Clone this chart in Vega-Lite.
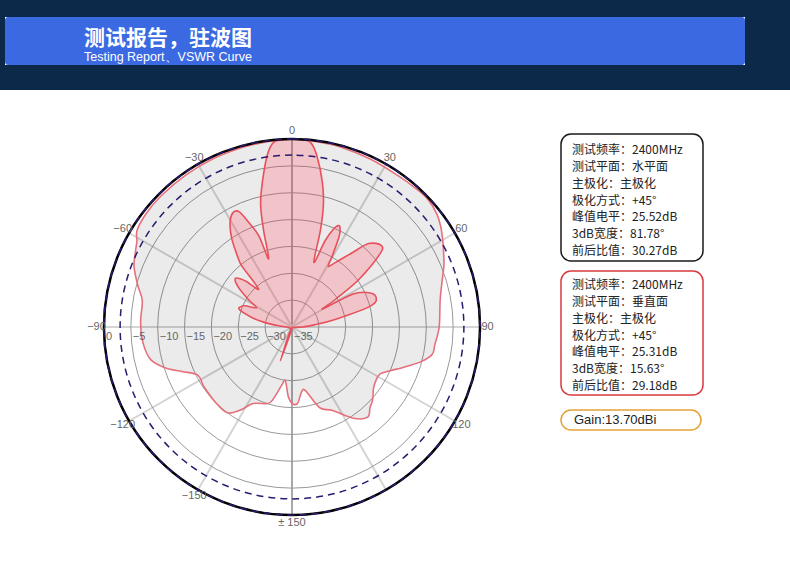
{
  "$schema": "https://vega.github.io/schema/vega-lite/v6.json",
  "padding": 0,
  "background": "white",
  "spacing": 0,
  "datasets": {
    "wide": [
      {"a": -180, "db": -20.8}, {"a": -177, "db": -22.0}, {"a": -175, "db": -23.7}, {"a": -172.5, "db": -25.0},
      {"a": -170, "db": -24.0}, {"a": -165, "db": -20.9}, {"a": -162, "db": -20.0}, {"a": -153, "db": -19.0},
      {"a": -148, "db": -16.7}, {"a": -143, "db": -15.0}, {"a": -135, "db": -15.0}, {"a": -124, "db": -15.2},
      {"a": -117, "db": -15.3}, {"a": -112, "db": -12.9}, {"a": -108, "db": -10.3}, {"a": -103, "db": -8.0},
      {"a": -96, "db": -7.1}, {"a": -88, "db": -6.8}, {"a": -80, "db": -6.7}, {"a": -75, "db": -5.3},
      {"a": -69, "db": -3.5}, {"a": -64, "db": -2.6}, {"a": -61, "db": -2.0}, {"a": -58, "db": -1.0},
      {"a": -52, "db": -0.6}, {"a": -45, "db": -0.5}, {"a": -35, "db": -0.5}, {"a": -25, "db": -0.4},
      {"a": -15, "db": -0.3}, {"a": -7, "db": -0.2}, {"a": 0, "db": 0}, {"a": 7, "db": -0.2},
      {"a": 15, "db": -0.3}, {"a": 25, "db": -0.5}, {"a": 35, "db": -0.6}, {"a": 42, "db": -0.4},
      {"a": 47, "db": -0.3}, {"a": 52, "db": -0.8}, {"a": 56, "db": -1.6}, {"a": 60, "db": -2.6},
      {"a": 64, "db": -3.6}, {"a": 68, "db": -4.5}, {"a": 74, "db": -6.0}, {"a": 80, "db": -7.0},
      {"a": 90, "db": -7.6}, {"a": 97, "db": -8.2}, {"a": 101, "db": -8.4}, {"a": 105, "db": -10.1},
      {"a": 110, "db": -13.0}, {"a": 114, "db": -15.0}, {"a": 118, "db": -16.4}, {"a": 122, "db": -16.5},
      {"a": 127, "db": -16.0}, {"a": 132, "db": -14.8}, {"a": 136, "db": -14.1}, {"a": 140, "db": -13.1},
      {"a": 146, "db": -14.5}, {"a": 154, "db": -17.7}, {"a": 161, "db": -19.1}, {"a": 167, "db": -22.5},
      {"a": 170, "db": -23.2}, {"a": 173, "db": -22.2}, {"a": 176, "db": -20.7}
    ],
    "narrow": [
      {"a": -180, "db": -35}, {"a": -170, "db": -34.5}, {"a": -164, "db": -33}, {"a": -161, "db": -28.3},
      {"a": -158, "db": -33}, {"a": -150, "db": -34.5}, {"a": -120, "db": -34.5}, {"a": -100, "db": -34.5},
      {"a": -90, "db": -34}, {"a": -85, "db": -32.5}, {"a": -80, "db": -29.5}, {"a": -76.7, "db": -27.3},
      {"a": -71.4, "db": -24.6}, {"a": -66, "db": -25.3}, {"a": -61.5, "db": -27.5}, {"a": -58, "db": -25.5},
      {"a": -53.5, "db": -22.6}, {"a": -49.4, "db": -21.1}, {"a": -45.3, "db": -22.8}, {"a": -41.4, "db": -25.6},
      {"a": -39.5, "db": -20.5}, {"a": -38.2, "db": -18.9}, {"a": -34.3, "db": -15.1}, {"a": -30.5, "db": -12.3},
      {"a": -27, "db": -11.0}, {"a": -24.5, "db": -11.5}, {"a": -22.5, "db": -13.9}, {"a": -20, "db": -16.9},
      {"a": -18.9, "db": -21.6}, {"a": -16.4, "db": -16.3}, {"a": -14.4, "db": -11.5}, {"a": -11.5, "db": -7.4},
      {"a": -8.2, "db": -2.7}, {"a": -5.7, "db": -0.45}, {"a": -2.5, "db": -0.1}, {"a": 0, "db": 0},
      {"a": 2.5, "db": -0.1}, {"a": 5.7, "db": -0.45}, {"a": 8.2, "db": -2.7}, {"a": 11.8, "db": -7.4},
      {"a": 14.4, "db": -11.5}, {"a": 16.4, "db": -16.3}, {"a": 18.7, "db": -22.3}, {"a": 21, "db": -17.8},
      {"a": 23, "db": -15.2}, {"a": 24.7, "db": -14.2}, {"a": 26, "db": -14.6}, {"a": 27.5, "db": -16.0},
      {"a": 29.5, "db": -19.7}, {"a": 30.8, "db": -21.8},
      {"a": 34, "db": -20.5}, {"a": 39, "db": -17.2}, {"a": 42.6, "db": -13.9}, {"a": 47.5, "db": -12.5},
      {"a": 50.2, "db": -13.6}, {"a": 54.5, "db": -19.6}, {"a": 57.5, "db": -25.3}, {"a": 59.6, "db": -28.4},
      {"a": 61.5, "db": -22.2}, {"a": 66, "db": -19.3}, {"a": 70.6, "db": -18.4}, {"a": 75, "db": -19.8},
      {"a": 80, "db": -26.7}, {"a": 85, "db": -31}, {"a": 90, "db": -33}, {"a": 100, "db": -34.5},
      {"a": 130, "db": -34.8}, {"a": 160, "db": -34.8}
    ],
    "spokes": [
      {"a": 0}, {"a": 30}, {"a": 60}, {"a": 90}, {"a": 120}, {"a": 150},
      {"a": 180}, {"a": 210}, {"a": 240}, {"a": 270}, {"a": 300}, {"a": 330}
    ],
    "rings": [{"db": -30}, {"db": -25}, {"db": -20}, {"db": -15}, {"db": -10}, {"db": -5}],
    "ringLabels": [
      {"db": 0, "t": "0"}, {"db": -5, "t": "−5"}, {"db": -10, "t": "−10"}, {"db": -15, "t": "−15"},
      {"db": -20, "t": "−20"}, {"db": -25, "t": "−25"}, {"db": -30, "t": "−30"}, {"db": -35, "t": "−35"}
    ],
    "angleLabels": [
      {"a": 0, "t": "0"}, {"a": 30, "t": "30"}, {"a": 60, "t": "60"}, {"a": 90, "t": "90"},
      {"a": 120, "t": "120"}, {"a": 180, "t": "± 150"}, {"a": -150, "t": "−150"}, {"a": -120, "t": "−120"},
      {"a": -90, "t": "−90"}, {"a": -60, "t": "−60"}, {"a": -30, "t": "−30"}
    ],
    "box1": [
      {"i": 1, "t": "测试频率：2400MHz"}, {"i": 2, "t": "测试平面：水平面"}, {"i": 3, "t": "主极化：主极化"},
      {"i": 4, "t": "极化方式：+45°"}, {"i": 5, "t": "峰值电平：25.52dB"}, {"i": 6, "t": "3dB宽度：81.78°"},
      {"i": 7, "t": "前后比值：30.27dB"}
    ],
    "box2": [
      {"i": 1, "t": "测试频率：2400MHz"}, {"i": 2, "t": "测试平面：垂直面"}, {"i": 3, "t": "主极化：主极化"},
      {"i": 4, "t": "极化方式：+45°"}, {"i": 5, "t": "峰值电平：25.31dB"}, {"i": 6, "t": "3dB宽度：15.63°"},
      {"i": 7, "t": "前后比值：29.18dB"}
    ],
    "box3": [{"t": "Gain:13.70dBi"}]
  },
  "vconcat": [
    {
      "spacing": 0,
      "vconcat": [
        {"width": 790, "height": 17, "data": {"values": []}, "mark": "point", "view": {"fill": "#0c2949", "stroke": null}},
        {
          "spacing": 0,
          "hconcat": [
            {"width": 5, "height": 48, "data": {"values": []}, "mark": "point", "view": {"fill": "#0c2949", "stroke": null}},
            {
              "width": 740, "height": 48, "data": {"values": []}, "mark": "point",
              "view": {"fill": "#3b69e2", "stroke": null, "cornerRadius": 3},
              "title": {
                "text": "测试报告，驻波图",
                "subtitle": "Testing Report、VSWR Curve",
                "anchor": "start", "frame": "group", "orient": "top",
                "offset": -46, "dx": 79,
                "font": "Noto Sans CJK SC", "fontSize": 21, "fontWeight": "bold", "color": "white",
                "subtitleFont": "Liberation Sans", "subtitleFontSize": 12.5, "subtitleColor": "white",
                "subtitlePadding": 2
              }
            },
            {"width": 45, "height": 48, "data": {"values": []}, "mark": "point", "view": {"fill": "#0c2949", "stroke": null}}
          ]
        },
        {"width": 790, "height": 25, "data": {"values": []}, "mark": "point", "view": {"fill": "#0c2949", "stroke": null}}
      ]
    },
    {
      "spacing": 20,
      "hconcat": [
        {
          "width": 540,
          "height": 477,
          "layer": [
            {
              "data": {"name": "spokes"},
              "transform": [
                {"calculate": "35*sin(datum.a*PI/180)", "as": "ex"},
                {"calculate": "35*cos(datum.a*PI/180)", "as": "ey"}
              ],
              "mark": {"type": "rule", "strokeWidth": 2},
              "encoding": {
                "x": {"field": "ex", "type": "quantitative", "scale": {"domain": [-54.36, 46.17], "nice": false, "zero": false}, "axis": null},
                "y": {"field": "ey", "type": "quantitative", "scale": {"domain": [-44.68, 44.12], "nice": false, "zero": false}, "axis": null},
                "x2": {"datum": 0},
                "y2": {"datum": 0},
                "color": {"condition": {"test": "datum.a % 180 == 0", "value": "#a8a8a8"}, "value": "#d4d4d4"}
              }
            },
            {
              "data": {"name": "rings"},
              "mark": {"type": "arc", "theta": 0, "theta2": 6.2832, "filled": false, "stroke": "#9a9a9a", "strokeWidth": 1},
              "encoding": {
                "x": {"datum": 0, "type": "quantitative", "stack": false, "scale": {"domain": [-54.36, 46.17], "nice": false, "zero": false}, "axis": null},
                "y": {"datum": 0, "type": "quantitative", "stack": false, "scale": {"domain": [-44.68, 44.12], "nice": false, "zero": false}, "axis": null},
                "radius": {"field": "db", "type": "quantitative", "stack": false, "scale": {"type": "linear", "domain": [-35, 0], "range": [0, 188], "zero": false}}
              }
            },
            {
              "data": {"name": "wide"},
              "transform": [
                {"calculate": "(datum.db+35)*sin(datum.a*PI/180)", "as": "px"},
                {"calculate": "(datum.db+35)*cos(datum.a*PI/180)", "as": "py"}
              ],
              "mark": {"type": "line", "interpolate": "cardinal-closed", "fill": "#000000", "fillOpacity": 0.08, "stroke": "#e6707c", "strokeWidth": 1.6},
              "encoding": {
                "x": {"field": "px", "type": "quantitative", "scale": {"domain": [-54.36, 46.17], "nice": false, "zero": false}, "axis": null},
                "y": {"field": "py", "type": "quantitative", "scale": {"domain": [-44.68, 44.12], "nice": false, "zero": false}, "axis": null},
                "order": {"field": "a", "type": "quantitative"}
              }
            },
            {
              "data": {"name": "narrow"},
              "transform": [
                {"calculate": "(datum.db+35)*sin(datum.a*PI/180)", "as": "px"},
                {"calculate": "(datum.db+35)*cos(datum.a*PI/180)", "as": "py"}
              ],
              "mark": {"type": "line", "interpolate": "cardinal-closed", "fill": "#ff4f5e", "fillOpacity": 0.25, "stroke": "#e8505c", "strokeWidth": 1.6},
              "encoding": {
                "x": {"field": "px", "type": "quantitative", "scale": {"domain": [-54.36, 46.17], "nice": false, "zero": false}, "axis": null},
                "y": {"field": "py", "type": "quantitative", "scale": {"domain": [-44.68, 44.12], "nice": false, "zero": false}, "axis": null},
                "order": {"field": "a", "type": "quantitative"}
              }
            },
            {
              "data": {"values": [{"db": 0}]},
              "mark": {"type": "arc", "theta": 0, "theta2": 6.2832, "filled": false, "stroke": "#000000", "strokeWidth": 2.5},
              "encoding": {
                "x": {"datum": 0, "type": "quantitative", "stack": false, "scale": {"domain": [-54.36, 46.17], "nice": false, "zero": false}, "axis": null},
                "y": {"datum": 0, "type": "quantitative", "stack": false, "scale": {"domain": [-44.68, 44.12], "nice": false, "zero": false}, "axis": null},
                "radius": {"field": "db", "type": "quantitative", "stack": false, "scale": {"type": "linear", "domain": [-35, 0], "range": [0, 188], "zero": false}}
              }
            },
            {
              "data": {"values": [{"db": -3}]},
              "mark": {"type": "arc", "theta": 0, "theta2": 6.2832, "filled": false, "stroke": "#2a1a6e", "strokeWidth": 1.5, "strokeDash": [7, 5]},
              "encoding": {
                "x": {"datum": 0, "type": "quantitative", "stack": false, "scale": {"domain": [-54.36, 46.17], "nice": false, "zero": false}, "axis": null},
                "y": {"datum": 0, "type": "quantitative", "stack": false, "scale": {"domain": [-44.68, 44.12], "nice": false, "zero": false}, "axis": null},
                "radius": {"field": "db", "type": "quantitative", "stack": false, "scale": {"type": "linear", "domain": [-35, 0], "range": [0, 188], "zero": false}}
              }
            },
            {
              "data": {"name": "ringLabels"},
              "transform": [{"calculate": "-(datum.db+35)", "as": "lx"}],
              "mark": {"type": "text", "align": "left", "baseline": "middle", "dx": 2, "font": "Liberation Sans", "fontSize": 11, "color": "#666666"},
              "encoding": {
                "x": {"field": "lx", "type": "quantitative", "scale": {"domain": [-54.36, 46.17], "nice": false, "zero": false}, "axis": null},
                "y": {"datum": -1.9, "type": "quantitative", "scale": {"domain": [-44.68, 44.12], "nice": false, "zero": false}, "axis": null},
                "text": {"field": "t"}
              }
            },
            {
              "data": {"name": "angleLabels"},
              "transform": [
                {"calculate": "36.4*sin(datum.a*PI/180)", "as": "tx"},
                {"calculate": "36.4*cos(datum.a*PI/180)", "as": "ty"}
              ],
              "mark": {"type": "text", "align": "center", "baseline": "middle", "font": "Liberation Sans", "fontSize": 11, "color": "#666666"},
              "encoding": {
                "x": {"field": "tx", "type": "quantitative", "scale": {"domain": [-54.36, 46.17], "nice": false, "zero": false}, "axis": null},
                "y": {"field": "ty", "type": "quantitative", "scale": {"domain": [-44.68, 44.12], "nice": false, "zero": false}, "axis": null},
                "text": {"field": "t"}
              }
            }
          ]
        },
        {
          "spacing": 0,
          "vconcat": [
            {"width": 142, "height": 43, "data": {"values": []}, "mark": "point"},
            {
              "width": 142, "height": 127,
              "data": {"name": "box1"},
              "view": {"stroke": "#1a1a1a", "strokeWidth": 1.5, "cornerRadius": 10},
              "mark": {"type": "text", "align": "left", "baseline": "middle", "font": "Noto Sans CJK SC", "fontSize": 12, "color": "#222222"},
              "encoding": {
                "x": {"datum": 0, "type": "quantitative", "scale": {"domain": [0, 1], "range": [11, 142]}, "axis": null},
                "y": {"field": "i", "type": "ordinal", "scale": {"type": "point", "range": [16, 117], "padding": 0}, "axis": null},
                "text": {"field": "t"}
              }
            },
            {"width": 142, "height": 8, "data": {"values": []}, "mark": "point"},
            {
              "width": 142, "height": 124,
              "data": {"name": "box2"},
              "view": {"stroke": "#d93a3f", "strokeWidth": 1.5, "cornerRadius": 10},
              "mark": {"type": "text", "align": "left", "baseline": "middle", "font": "Noto Sans CJK SC", "fontSize": 12, "color": "#222222"},
              "encoding": {
                "x": {"datum": 0, "type": "quantitative", "scale": {"domain": [0, 1], "range": [11, 142]}, "axis": null},
                "y": {"field": "i", "type": "ordinal", "scale": {"type": "point", "range": [14, 115], "padding": 0}, "axis": null},
                "text": {"field": "t"}
              }
            },
            {"width": 142, "height": 13, "data": {"values": []}, "mark": "point"},
            {
              "width": 140, "height": 20,
              "data": {"name": "box3"},
              "view": {"stroke": "#e3a23a", "strokeWidth": 1.5, "cornerRadius": 10},
              "mark": {"type": "text", "align": "left", "baseline": "middle", "font": "Liberation Sans", "fontSize": 13, "color": "#222222"},
              "encoding": {
                "x": {"datum": 0, "type": "quantitative", "scale": {"domain": [0, 1], "range": [13, 140]}, "axis": null},
                "text": {"field": "t"}
              }
            }
          ]
        }
      ]
    }
  ],
  "config": {"view": {"stroke": null}, "font": "Liberation Sans"}
}
